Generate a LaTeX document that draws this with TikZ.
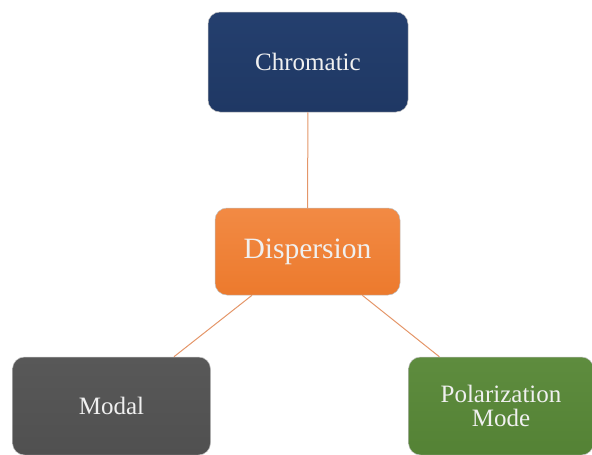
\documentclass[tikz,border=0pt]{standalone}
\usepackage{fontspec}
\setmainfont{Liberation Serif}
\usetikzlibrary{shadings}
\definecolor{navy}{RGB}{31,56,100}
\definecolor{navytop}{RGB}{36,63,110}
\definecolor{orng}{RGB}{236,122,45}
\definecolor{orngtop}{RGB}{242,138,68}
\definecolor{grayb}{RGB}{80,80,80}
\definecolor{graytop}{RGB}{88,88,88}
\definecolor{grn}{RGB}{84,130,53}
\definecolor{grntop}{RGB}{94,140,62}
\definecolor{linkc}{RGB}{228,150,105}
\definecolor{txt}{RGB}{240,240,240}
\tikzset{
  box/.style={rounded corners=12pt, inner sep=0pt, align=center, text=txt,
    draw=white!75!black, line width=0.5pt},
  link/.style={draw=linkc, line width=1pt}
}
\begin{document}
\begin{tikzpicture}[x=1pt,y=1pt]
\useasboundingbox (0,0) rectangle (592,-455);
\node[box, top color=navytop, bottom color=navy, minimum width=200pt, minimum height=100pt,
  font=\fontsize{25}{24}\selectfont] (chrom) at (308,-62) {Chromatic};
\node[box, top color=orngtop, bottom color=orng, minimum width=185pt, minimum height=87pt,
  font=\fontsize{29.5}{30}\selectfont] (disp) at (307.5,-251.5) {Dispersion};
\node[box, top color=graytop, bottom color=grayb, minimum width=198pt, minimum height=98pt,
  font=\fontsize{25}{24}\selectfont] (modal) at (111.5,-406) {Modal};
\node[box, top color=grntop, bottom color=grn, minimum width=185pt, minimum height=98pt,
  font=\fontsize{25}{24}\selectfont] (pol) at (501,-406) {Polarization\\Mode};
\draw[link] (chrom) -- (disp);
\draw[link] (disp) -- (modal);
\draw[link] (disp) -- (pol);
\end{tikzpicture}
\end{document}
